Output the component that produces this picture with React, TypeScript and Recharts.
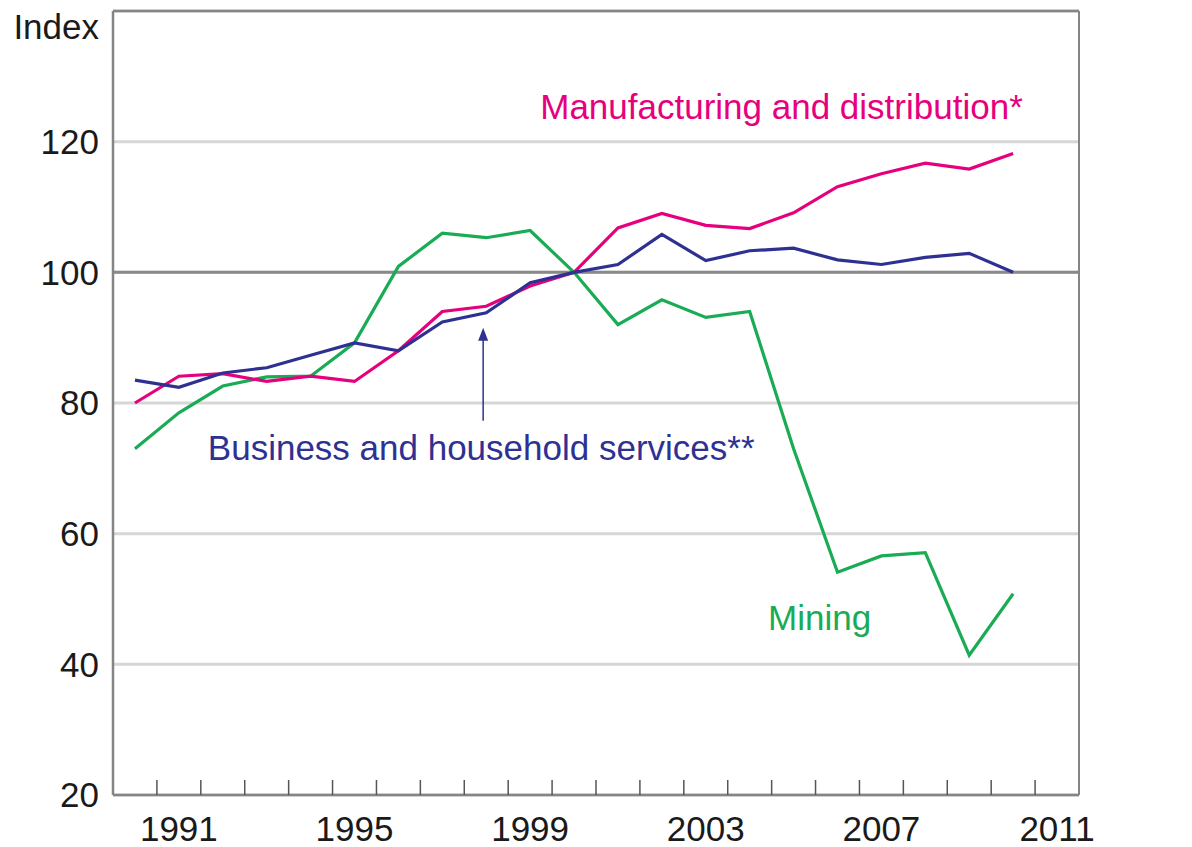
import React from "react"
import {
  CartesianGrid,
  Line,
  LineChart,
  ReferenceDot,
  ReferenceLine,
  XAxis,
  YAxis,
} from "recharts"

const years = [
  1990, 1991, 1992, 1993, 1994, 1995, 1996, 1997, 1998, 1999, 2000, 2001, 2002,
  2003, 2004, 2005, 2006, 2007, 2008, 2009, 2010,
]
const manufacturing = [
  80.0, 84.1, 84.5, 83.3, 84.1, 83.3, 88.0, 94.0, 94.8, 97.9, 100, 106.8, 109.0,
  107.2, 106.7, 109.1, 113.1, 115.1, 116.7, 115.8, 118.2,
]
const business = [
  83.5, 82.4, 84.6, 85.4, 87.3, 89.2, 88.0, 92.4, 93.8, 98.4, 100, 101.2, 105.8,
  101.8, 103.3, 103.7, 101.9, 101.2, 102.3, 102.9, 100.0,
]
const mining = [
  73.0, 78.5, 82.6, 84.0, 84.1, 89.2, 100.9, 106.0, 105.3, 106.4, 100, 92.0, 95.8,
  93.1, 94.0, 73.0, 54.1, 56.6, 57.1, 41.4, 50.8,
]
const yTicks = [20, 40, 60, 80, 100, 120, 140]
const xTicks = [
  1990, 1991, 1992, 1993, 1994, 1995, 1996, 1997, 1998, 1999, 2000, 2001, 2002,
  2003, 2004, 2005, 2006, 2007, 2008, 2009, 2010, 2011, 2012,
]
const xLabels = [1991, 1995, 1999, 2003, 2007, 2011]

// each year is plotted in the middle of its slot
const data = years.map((y, i) => ({
  x: y + 0.5,
  manufacturing: manufacturing[i],
  business: business[i],
  mining: mining[i],
}))

const W = 1192
const H = 847
const AXIS_W = 113
const X_AXIS_H = 52
const TOP = 11
const halfYear = (W - 2 * AXIS_W) / (xTicks.length - 1) / 2

const FONT = "'Liberation Sans', Arial, sans-serif"
const FS = 35
const MAGENTA = "#e6007e"
const NAVY = "#2e3192"
const GREEN = "#1aab55"
const FRAME = "#858585"

const YearTick = (props: any) => {
  const { x, y, payload } = props
  const v = payload.value
  return (
    <g>
      {v > 1990 && v < 2012 && (
        <line x1={x} x2={x} y1={y} y2={y - 15} stroke="#555" strokeWidth={1.5} />
      )}
      {xLabels.includes(v) && (
        <text
          x={x + halfYear}
          y={y + 34}
          dy="0.35em"
          textAnchor="middle"
          fontFamily={FONT}
          fontSize={FS}
          fill="#1a1a1a"
        >
          {v}
        </text>
      )}
    </g>
  )
}

const IndexTick = (props: any) => {
  const { x, y, payload, textAnchor } = props
  const v = payload.value
  return (
    <text
      x={x}
      y={v === 140 ? y + 16 : y}
      dy="0.35em"
      textAnchor={textAnchor}
      fontFamily={FONT}
      fontSize={FS}
      fill="#1a1a1a"
    >
      {v === 140 ? "Index" : v}
    </text>
  )
}

const note = (text: string, color: string) => (props: any) => (
  <text
    x={props.cx}
    y={props.cy}
    dy="0.35em"
    fontFamily={FONT}
    fontSize={FS}
    fill={color}
  >
    {text}
  </text>
)

const Arrow = (props: any) => {
  const { x1, y1, x2, y2 } = props
  return (
    <g>
      <line x1={x1} y1={y1} x2={x2} y2={y2 + 10} stroke={NAVY} strokeWidth={1.5} />
      <polygon
        points={`${x2},${y2} ${x2 - 5},${y2 + 13} ${x2 + 5},${y2 + 13}`}
        fill={NAVY}
      />
    </g>
  )
}

export default function App() {
  return (
    <div style={{ position: "absolute", left: 0, top: 0, background: "#fff" }}>
      <LineChart
        width={W}
        height={H}
        data={data}
        margin={{ top: TOP, right: 0, bottom: 0, left: 0 }}
      >
        <CartesianGrid
          yAxisId="left"
          vertical={false}
          stroke="#d6d6d6"
          strokeWidth={3}
        />
        <XAxis
          dataKey="x"
          type="number"
          domain={[1990, 2012]}
          ticks={xTicks}
          interval={0}
          height={X_AXIS_H}
          tickLine={false}
          tickSize={0}
          tickMargin={0}
          tick={<YearTick />}
          axisLine={{ stroke: FRAME, strokeWidth: 2.5 }}
        />
        <YAxis
          yAxisId="left"
          domain={[20, 140]}
          ticks={yTicks}
          width={AXIS_W}
          tickLine={false}
          tickSize={0}
          tickMargin={14}
          tick={<IndexTick />}
          axisLine={{ stroke: FRAME, strokeWidth: 2.5 }}
        />
        <YAxis
          yAxisId="right"
          orientation="right"
          domain={[20, 140]}
          ticks={yTicks}
          width={AXIS_W}
          tickLine={false}
          tickSize={0}
          tickMargin={14}
          tick={<IndexTick />}
          axisLine={{ stroke: FRAME, strokeWidth: 2 }}
        />
        <ReferenceLine yAxisId="left" y={100} stroke="#8a8a8a" strokeWidth={3} />
        <ReferenceLine yAxisId="left" y={140} stroke={FRAME} strokeWidth={2.5} />
        <Line
          yAxisId="left"
          dataKey="mining"
          stroke={GREEN}
          strokeWidth={3.2}
          dot={false}
          isAnimationActive={false}
        />
        <Line
          yAxisId="left"
          dataKey="manufacturing"
          stroke={MAGENTA}
          strokeWidth={3.2}
          dot={false}
          isAnimationActive={false}
        />
        <Line
          yAxisId="left"
          dataKey="business"
          stroke={NAVY}
          strokeWidth={3.2}
          dot={false}
          isAnimationActive={false}
        />
        <ReferenceLine
          yAxisId="left"
          segment={[
            { x: 1998.43, y: 77.3 },
            { x: 1998.43, y: 91.5 },
          ]}
          shape={<Arrow />}
        />
        <ReferenceDot
          yAxisId="left"
          x={1999.73}
          y={125.3}
          r={0}
          shape={note("Manufacturing and distribution*", MAGENTA)}
        />
        <ReferenceDot
          yAxisId="left"
          x={1992.16}
          y={73.1}
          r={0}
          shape={note("Business and household services**", NAVY)}
        />
        <ReferenceDot
          yAxisId="left"
          x={2004.92}
          y={47.2}
          r={0}
          shape={note("Mining", GREEN)}
        />
      </LineChart>
    </div>
  )
}
